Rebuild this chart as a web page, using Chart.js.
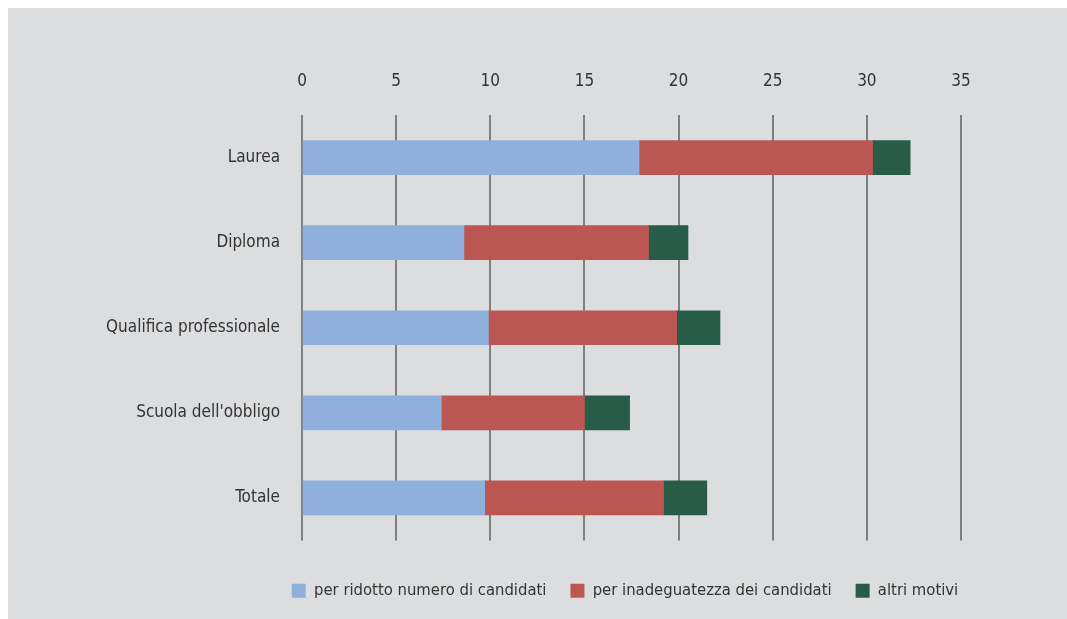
<!DOCTYPE html>
<html>
<head>
<meta charset="utf-8">
<script src="https://cdn.jsdelivr.net/npm/chart.js@4/dist/chart.umd.min.js"></script>
<style>
    html, body { margin: 0; padding: 0; background: #ffffff; }
    #wrap { position: absolute; left: 8px; top: 8px; width: 1059px; height: 611px; background: #dcdddf; }
</style>
</head>
<body>
<div id="wrap"><canvas id="chart" width="1059" height="611"></canvas></div>
<script>
// ======================
// Data
// ======================
const categories = ["Laurea", "Diploma", "Qualifica professionale", "Scuola dell'obbligo", "Totale"];
const seriesNames = ["per ridotto numero di candidati", "per inadeguatezza dei candidati", "altri motivi"];
const ridottoNumero = [17.9, 8.6, 9.9, 7.4, 9.7];
const inadeguatezza = [12.4, 9.8, 10.0, 7.6, 9.5];
const altriMotivi = [2.0, 2.1, 2.3, 2.4, 2.3];
const xTicks = [0, 5, 10, 15, 20, 25, 30, 35];

const textColor = '#333333';
const fontFamily = "'Liberation Sans Narrow', 'DejaVu Sans Condensed', 'Roboto Condensed', 'Liberation Sans', sans-serif";
Chart.defaults.font.family = fontFamily;
Chart.defaults.font.size = 17;
Chart.defaults.color = textColor;

// legend is laid out full width, then moved so it sits centred a bit left of the plot
const legendShift = {
    id: 'legendShift',
    afterLayout: function (chart) {
        const lg = chart.legend;
        if (!lg) return;
        lg.left = 194;
        lg.right = 1040;
    }
};

let ctx = document.getElementById("chart").getContext("2d");

new Chart(ctx, {
    type: 'bar',
    data: {
        labels: categories,
        datasets: [
            { label: seriesNames[0], data: ridottoNumero, backgroundColor: '#8fb0dc' },
            { label: seriesNames[1], data: inadeguatezza, backgroundColor: '#bc5653' },
            { label: seriesNames[2], data: altriMotivi, backgroundColor: '#265c48' }
        ]
    },
    plugins: [legendShift],
    options: {
        indexAxis: 'y',
        responsive: false,
        animation: false,
        datasets: { bar: { barThickness: 34, borderWidth: 0 } },
        layout: { padding: { left: 0, right: 106, top: 0, bottom: 10 } },
        plugins: {
            tooltip: { enabled: false },
            legend: {
                position: 'bottom',
                labels: { boxWidth: 14, boxHeight: 14, padding: 24, color: textColor, font: { size: 16.5 } }
            }
        },
        scales: {
            x: {
                type: 'linear',
                position: 'top',
                min: 0,
                max: 35,
                stacked: true,
                afterBuildTicks: function (scale) { scale.ticks = xTicks.map(v => ({ value: v })); },
                afterFit: function (scale) { scale.height = 107; },
                ticks: { padding: 23, color: textColor },
                grid: { color: '#7f7f7f', lineWidth: 2, drawTicks: false },
                border: { display: false }
            },
            xb: {
                type: 'linear',
                position: 'bottom',
                display: true,
                afterFit: function (scale) { scale.height = 18; },
                ticks: { display: false },
                grid: { display: false },
                border: { display: false }
            },
            y: {
                stacked: true,
                afterFit: function (scale) { scale.width = 294; },
                ticks: { padding: 22, color: textColor },
                grid: { display: false, drawTicks: false },
                border: { display: false }
            }
        }
    }
});
</script>
</body>
</html>
